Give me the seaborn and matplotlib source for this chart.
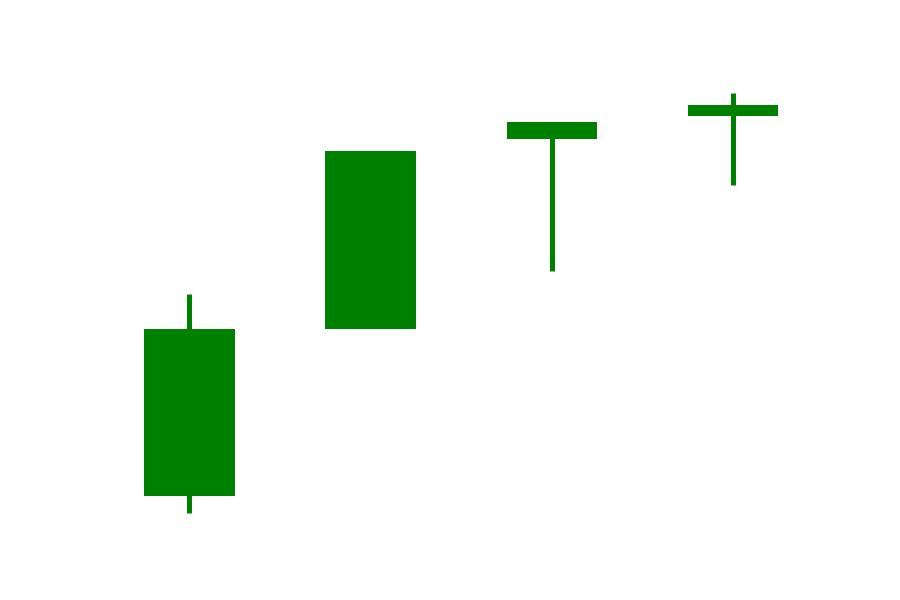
import matplotlib
matplotlib.use("Agg")
import matplotlib.pyplot as plt
import numpy as np
import seaborn as sns

# OHLC values for the four candles
days = [0, 1, 2, 3]
opens = [11.7, 28.4, 47.4, 49.7]
highs = [31.9, 46.1, 49.1, 52.0]
lows = [10.0, 28.6, 34.2, 42.8]
closes = [28.4, 46.2, 49.1, 50.8]

sns.set_style("white")

fig, ax = plt.subplots(figsize=(9, 6), dpi=100)

x = np.array(days)
o = np.array(opens)
c = np.array(closes)

# wicks first, bodies on top
ax.vlines(x, lows, highs, color="green", linewidth=3.6, zorder=1)
ax.bar(x, c - o, bottom=o, width=0.5, color="green", linewidth=0, zorder=2)

ax.axis("off")
fig.savefig("out.png", dpi=100)
